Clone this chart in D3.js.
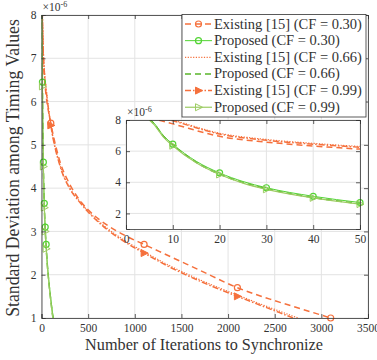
<!doctype html>
<html lang="en">
<head>
<meta charset="UTF-8">
<title>Std deviation vs iterations</title>
<script src="https://cdn.jsdelivr.net/npm/d3@7"></script>
<style>
    body { margin: 0; background: #fff; }
    svg { font-family: "Liberation Serif", "DejaVu Serif", serif; }
    .grid line { stroke: #e3e3e3; stroke-width: 1; }
</style>
</head>
<body>
<script>
    // iterations (x) and std deviation (x 1e-6)
    var exist30_n = [5, 10, 20, 30, 40, 50, 100, 200, 300, 400, 500, 700, 900, 1100, 1400, 1700, 2100, 2500, 2800, 3100];
    var exist30_v = [8.15, 7.75, 6.95, 6.58, 6.33, 6.13, 5.5, 4.6, 4.1, 3.75, 3.5, 3.15, 2.9, 2.7, 2.4, 2.1, 1.7, 1.4, 1.2, 1.0];
    var exist66_n = [5, 10, 20, 30, 40, 50, 100, 200, 300, 400, 500, 700, 900, 1100, 1400, 1700, 2100, 2400, 2750];
    var exist66_v = [8.4, 8.0, 7.15, 6.75, 6.5, 6.3, 5.47, 4.52, 4.02, 3.72, 3.47, 3.08, 2.78, 2.53, 2.18, 1.88, 1.53, 1.28, 1.0];
    var exist99_n = [5, 10, 20, 30, 40, 50, 100, 200, 300, 400, 500, 700, 900, 1100, 1400, 1700, 2100, 2400, 2700];
    var exist99_v = [8.35, 7.95, 7.1, 6.7, 6.45, 6.25, 5.45, 4.5, 4.0, 3.7, 3.45, 3.05, 2.75, 2.5, 2.15, 1.85, 1.5, 1.25, 1.0];
    var prop30_n = [5, 6, 8, 10, 15, 20, 25, 30, 40, 50, 60, 80, 100, 120, 130];
    var prop30_v = [8.1, 7.8, 7.0, 6.45, 5.35, 4.6, 4.05, 3.65, 3.1, 2.7, 2.35, 1.85, 1.45, 1.1, 0.95];
    var prop66_n = [5, 6, 8, 10, 15, 20, 25, 30, 40, 50, 60, 80, 100, 120, 128];
    var prop66_v = [8.05, 7.75, 6.95, 6.4, 5.28, 4.52, 3.98, 3.58, 3.02, 2.62, 2.3, 1.8, 1.4, 1.05, 0.95];
    var prop99_n = [5, 6, 8, 10, 15, 20, 25, 30, 40, 50, 60, 80, 100, 120, 126];
    var prop99_v = [8.0, 7.7, 6.9, 6.35, 5.25, 4.5, 3.95, 3.55, 3.0, 2.6, 2.27, 1.78, 1.38, 1.03, 0.95];

    var exist_marks = [100, 1100, 2100, 3100];
    var prop_marks = [10, 20, 30, 40, 50];

    var x_ticks = [0, 500, 1000, 1500, 2000, 2500, 3000, 3500];
    var y_ticks = [1, 2, 3, 4, 5, 6, 7, 8];
    var xi_ticks = [0, 10, 20, 30, 40, 50];
    var yi_ticks = [2, 4, 6, 8];

    var legend_labels = ["Existing [15] (CF = 0.30)", "Proposed (CF = 0.30)", "Existing [15] (CF = 0.66)",
        "Proposed (CF = 0.66)", "Existing [15] (CF = 0.99)", "Proposed (CF = 0.99)"];

    var orange = "#f5703c", green = "#52d433", green2 = "#5ab52a", green3 = "#9ccc62";

    function zip(ns, vs) { return ns.map(function (n, i) { return [n, vs[i]]; }); }
    var series = [
        {data: zip(exist30_n, exist30_v), color: orange, dash: "6,4", marker: "circle", marks: exist_marks, w: 1.5},
        {data: zip(prop30_n, prop30_v), color: green, dash: null, marker: "circle", marks: prop_marks, w: 1},
        {data: zip(exist66_n, exist66_v), color: orange, dash: "1.2,1.5", marker: null, marks: [], w: 1.2},
        {data: zip(prop66_n, prop66_v), color: green2, dash: "6,4", marker: null, marks: [], w: 1.5},
        {data: zip(exist99_n, exist99_v), color: orange, dash: "6,2,1.5,2", marker: "tri", marks: exist_marks, w: 1.5},
        {data: zip(prop99_n, prop99_v), color: green3, dash: null, marker: "tri", marks: prop_marks, w: 1.2}
    ];

    var w = 377, h = 360;
    var svg = d3.select("body").append("svg").attr("width", w).attr("height", h);

    var x = d3.scaleLinear().domain([0, 3500]).range([41.5, 368]);
    var y = d3.scaleLinear().domain([1, 8]).range([318, 15]);
    var xi = d3.scaleLinear().domain([0, 50]).range([126, 360]);
    var yi = d3.scaleLinear().domain([1, 8]).range([229, 120]);

    function interp(d, n) {
        // value at n by linear lookup in the read points (only to place markers on the line)
        for (var i = 1; i < d.length; i++) {
            if (d[i][0] >= n) {
                var t = (n - d[i - 1][0]) / (d[i][0] - d[i - 1][0]);
                return d[i - 1][1] + t * (d[i][1] - d[i - 1][1]);
            }
        }
        return null;
    }

    // scale font so a text takes the given width
    function fitWidth(sel, width) {
        var f = parseFloat(sel.attr("font-size"));
        var len = sel.node().getComputedTextLength();
        if (len > 0) sel.attr("font-size", (f * width / len).toFixed(2) + "px");
    }

    function drawMarker(g, shape, cx, cy, color, filled) {
        if (shape === "circle") {
            g.append("circle").attr("cx", cx).attr("cy", cy).attr("r", 3)
                .attr("fill", "none").attr("stroke", color).attr("stroke-width", 1.2);
        } else if (shape === "tri") {
            g.append("path").attr("d", "M" + (cx - 3) + "," + (cy - 3.5) + "L" + (cx + 4) + "," + cy + "L" + (cx - 3) + "," + (cy + 3.5) + "Z")
                .attr("fill", filled ? color : "none").attr("stroke", color).attr("stroke-width", 1);
        }
    }

    function panel(xs, ys, xt, yt, id, withBg) {
        var x0 = xs.range()[0], x1 = xs.range()[1], y0 = ys.range()[1], y1 = ys.range()[0];
        var g = svg.append("g");
        if (withBg) g.append("rect").attr("x", x0).attr("y", y0).attr("width", x1 - x0).attr("height", y1 - y0).attr("fill", "#fff");
        var grid = g.append("g").attr("class", "grid");
        grid.selectAll(".gx").data(xt).enter().append("line")
            .attr("x1", xs).attr("x2", xs).attr("y1", y0).attr("y2", y1);
        grid.selectAll(".gy").data(yt).enter().append("line")
            .attr("y1", ys).attr("y2", ys).attr("x1", x0).attr("x2", x1);

        svg.append("clipPath").attr("id", id).append("rect")
            .attr("x", x0).attr("y", y0).attr("width", x1 - x0).attr("height", y1 - y0);
        var plot = g.append("g").attr("clip-path", "url(#" + id + ")");
        var line = d3.line().curve(d3.curveMonotoneX).x(function (d) { return xs(d[0]); }).y(function (d) { return ys(d[1]); });
        series.forEach(function (s) {
            plot.append("path").datum(s.data).attr("d", line).attr("fill", "none")
                .attr("stroke", s.color).attr("stroke-width", s.w).attr("stroke-dasharray", s.dash);
        });
        var mg = g.append("g");
        series.forEach(function (s) {
            s.marks.forEach(function (n) {
                var v = interp(s.data, n);
                if (v === null || n < xs.domain()[0] || n > xs.domain()[1] || v < ys.domain()[0] || v > ys.domain()[1]) return;
                drawMarker(mg, s.marker, xs(n), ys(v), s.color, s.color === orange);
            });
        });

        var ax = g.append("g");
        ax.append("g").attr("transform", "translate(0," + y1 + ")")
            .call(d3.axisBottom(xs).tickValues(xt).tickSize(-4).tickPadding(6).tickFormat(d3.format("d")));
        ax.append("g").attr("transform", "translate(0," + y0 + ")")
            .call(d3.axisTop(xs).tickValues(xt).tickSize(-4).tickFormat(""));
        ax.append("g").attr("transform", "translate(" + x0 + ",0)")
            .call(d3.axisLeft(ys).tickValues(yt).tickSize(-4).tickPadding(5).tickFormat(d3.format("d")));
        ax.append("g").attr("transform", "translate(" + x1 + ",0)")
            .call(d3.axisRight(ys).tickValues(yt).tickSize(-4).tickFormat(""));
        ax.selectAll(".domain").attr("stroke", "#333").attr("stroke-width", 0.8);
        ax.selectAll(".tick line").attr("stroke", "#333").attr("stroke-width", 0.8);
        ax.selectAll("text").attr("fill", "#333").attr("font-family", "Liberation Serif, serif").attr("font-size", "11.5px");

        var ex = g.append("text").attr("x", x0 + 1).attr("y", y0 - 4).attr("font-size", "11.5px").attr("fill", "#333");
        ex.append("tspan").text("\u00d710");
        ex.append("tspan").attr("dy", -4).attr("font-size", "8px").text("-6");
        return g;
    }

    panel(x, y, x_ticks, y_ticks, "clipMain", false);

    // axis labels
    var xl = svg.append("text").attr("x", 204).attr("y", 350).attr("text-anchor", "middle")
        .attr("font-size", "14px").attr("fill", "#333").text("Number of Iterations to Synchronize");
    fitWidth(xl, 238);
    var yl = svg.append("text").attr("transform", "translate(19,168) rotate(-90)").attr("text-anchor", "middle")
        .attr("font-size", "14px").attr("fill", "#333").text("Standard Deviation among Timing Values");
    fitWidth(yl, 298);

    // legend
    var lg = svg.append("g");
    lg.append("rect").attr("x", 182).attr("y", 14.5).attr("width", 184).attr("height", 102.5)
        .attr("fill", "#fff").attr("stroke", "#333").attr("stroke-width", 0.8);
    var legendFont = null;
    series.forEach(function (s, i) {
        var ly = 24 + i * 16.65;
        lg.append("line").attr("x1", 185).attr("x2", 212).attr("y1", ly).attr("y2", ly)
            .attr("stroke", s.color).attr("stroke-width", s.w).attr("stroke-dasharray", s.dash);
        if (s.marker) drawMarker(lg, s.marker, 198.5, ly, s.color, s.color === orange);
        var t = lg.append("text").attr("x", 214).attr("y", ly + 4.5).attr("font-size", "12.5px").attr("fill", "#333")
            .text(legend_labels[i]);
        if (i === 0) { fitWidth(t, 148); legendFont = t.attr("font-size"); }
        else t.attr("font-size", legendFont);
    });

    // inset
    panel(xi, yi, xi_ticks, yi_ticks, "clipInset", true);
</script>
</body>
</html>
